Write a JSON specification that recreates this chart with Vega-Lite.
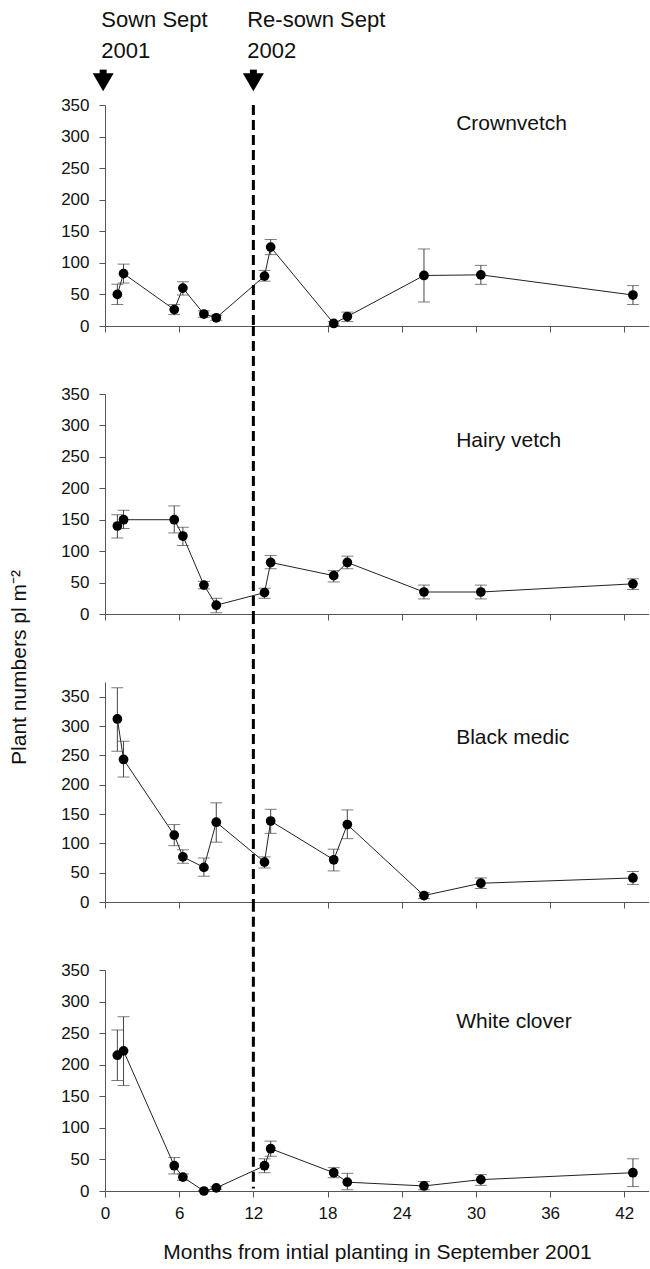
{
  "$schema": "https://vega.github.io/schema/vega-lite/v6.json",
  "padding": {"left": 7, "top": 9, "right": 0, "bottom": 0},
  "background": "white",
  "datasets": {
    "crown": [
      {"month": 1.0, "value": 50, "lo": 34, "hi": 66},
      {"month": 1.5, "value": 83, "lo": 68, "hi": 98},
      {"month": 5.6, "value": 26, "lo": 18, "hi": 34},
      {"month": 6.3, "value": 60, "lo": 49, "hi": 70},
      {"month": 8.0, "value": 19, "lo": 14, "hi": 24},
      {"month": 9.0, "value": 13, "lo": 9, "hi": 17},
      {"month": 12.9, "value": 79, "lo": 71, "hi": 88},
      {"month": 13.4, "value": 125, "lo": 113, "hi": 137},
      {"month": 18.5, "value": 4, "lo": 1, "hi": 7},
      {"month": 19.6, "value": 15, "lo": 7, "hi": 22},
      {"month": 25.8, "value": 80, "lo": 38, "hi": 122},
      {"month": 30.4, "value": 81, "lo": 66, "hi": 96},
      {"month": 42.7, "value": 49, "lo": 34, "hi": 64}
    ],
    "hairy": [
      {"month": 1.0, "value": 140, "lo": 121, "hi": 158},
      {"month": 1.5, "value": 150, "lo": 136, "hi": 165},
      {"month": 5.6, "value": 150, "lo": 129, "hi": 172},
      {"month": 6.3, "value": 124, "lo": 109, "hi": 138},
      {"month": 8.0, "value": 46, "lo": 40, "hi": 52},
      {"month": 9.0, "value": 14, "lo": 2, "hi": 25},
      {"month": 12.9, "value": 34, "lo": 25, "hi": 41},
      {"month": 13.4, "value": 82, "lo": 72, "hi": 93},
      {"month": 18.5, "value": 61, "lo": 51, "hi": 69},
      {"month": 19.6, "value": 82, "lo": 72, "hi": 92},
      {"month": 25.8, "value": 35, "lo": 24, "hi": 46},
      {"month": 30.4, "value": 35, "lo": 24, "hi": 46},
      {"month": 42.7, "value": 48, "lo": 39, "hi": 56}
    ],
    "medic": [
      {"month": 1.0, "value": 312, "lo": 257, "hi": 365},
      {"month": 1.5, "value": 243, "lo": 213, "hi": 274},
      {"month": 5.6, "value": 114, "lo": 96, "hi": 132},
      {"month": 6.3, "value": 77, "lo": 66, "hi": 89},
      {"month": 8.0, "value": 59, "lo": 44, "hi": 75},
      {"month": 9.0, "value": 136, "lo": 102, "hi": 169},
      {"month": 12.9, "value": 68, "lo": 58, "hi": 77},
      {"month": 13.4, "value": 138, "lo": 117, "hi": 158},
      {"month": 18.5, "value": 72, "lo": 53, "hi": 90},
      {"month": 19.6, "value": 132, "lo": 108, "hi": 157},
      {"month": 25.8, "value": 11, "lo": 6, "hi": 16},
      {"month": 30.4, "value": 32, "lo": 23, "hi": 41},
      {"month": 42.7, "value": 41, "lo": 30, "hi": 52}
    ],
    "clover": [
      {"month": 1.0, "value": 215, "lo": 175, "hi": 255},
      {"month": 1.5, "value": 222, "lo": 167, "hi": 276},
      {"month": 5.6, "value": 40, "lo": 27, "hi": 53},
      {"month": 6.3, "value": 22, "lo": 17, "hi": 27},
      {"month": 8.0, "value": 0, "lo": 0, "hi": 1},
      {"month": 9.0, "value": 5, "lo": 3, "hi": 7},
      {"month": 12.9, "value": 40, "lo": 29, "hi": 51},
      {"month": 13.4, "value": 67, "lo": 55, "hi": 79},
      {"month": 18.5, "value": 29, "lo": 21, "hi": 37},
      {"month": 19.6, "value": 14, "lo": 2, "hi": 28},
      {"month": 25.8, "value": 8, "lo": 2, "hi": 15},
      {"month": 30.4, "value": 18, "lo": 9, "hi": 26},
      {"month": 42.7, "value": 29, "lo": 7, "hi": 51}
    ]
  },
  "vconcat": [
    {
      "width": 544, "height": 221,
      "data": {"name": "crown"},
      "layer": [
        {"mark": {"type": "line", "color": "#222", "strokeWidth": 1},
         "encoding": {
           "x": {"field": "month", "type": "quantitative", "scale": {"domain": [0, 44], "nice": false, "zero": false},
                 "axis": {"values": [0, 6, 12, 18, 24, 30, 36, 42], "labels": false, "title": null}},
           "y": {"field": "value", "type": "quantitative", "scale": {"domain": [0, 350], "nice": false},
                 "axis": {"values": [0, 50, 100, 150, 200, 250, 300, 350], "title": null}}}},
        {"data": {"values": [{}]}, "mark": {"type": "rule", "strokeDash": [10, 5], "strokeWidth": 3, "color": "#000"},
         "encoding": {"x": {"datum": 12, "type": "quantitative", "axis": {"values": [0, 6, 12, 18, 24, 30, 36, 42], "labels": false, "title": null}},
                      "y": {"datum": 350, "type": "quantitative", "axis": {"values": [0, 50, 100, 150, 200, 250, 300, 350], "title": null}}, "y2": {"datum": 0}}},
        {"mark": {"type": "rule", "color": "#444", "strokeWidth": 1},
         "encoding": {"x": {"field": "month", "type": "quantitative", "axis": {"values": [0, 6, 12, 18, 24, 30, 36, 42], "labels": false, "title": null}},
                      "y": {"field": "lo", "type": "quantitative", "axis": {"values": [0, 50, 100, 150, 200, 250, 300, 350], "title": null}}, "y2": {"field": "hi"}}},
        {"mark": {"type": "tick", "orient": "horizontal", "size": 12, "thickness": 1, "color": "#444"},
         "encoding": {"x": {"field": "month", "type": "quantitative", "axis": {"values": [0, 6, 12, 18, 24, 30, 36, 42], "labels": false, "title": null}},
                      "y": {"field": "lo", "type": "quantitative", "axis": {"values": [0, 50, 100, 150, 200, 250, 300, 350], "title": null}}}},
        {"mark": {"type": "tick", "orient": "horizontal", "size": 12, "thickness": 1, "color": "#444"},
         "encoding": {"x": {"field": "month", "type": "quantitative", "axis": {"values": [0, 6, 12, 18, 24, 30, 36, 42], "labels": false, "title": null}},
                      "y": {"field": "hi", "type": "quantitative", "axis": {"values": [0, 50, 100, 150, 200, 250, 300, 350], "title": null}}}},
        {"mark": {"type": "circle", "size": 95, "color": "#000", "opacity": 1},
         "encoding": {"x": {"field": "month", "type": "quantitative", "axis": {"values": [0, 6, 12, 18, 24, 30, 36, 42], "labels": false, "title": null}},
                      "y": {"field": "value", "type": "quantitative", "axis": {"values": [0, 50, 100, 150, 200, 250, 300, 350], "title": null}}}},
        {"data": {"values": [{}]}, "mark": {"type": "text", "text": "Crownvetch", "align": "left", "baseline": "middle", "fontSize": 21},
         "encoding": {"x": {"datum": 28.4, "type": "quantitative", "axis": {"values": [0, 6, 12, 18, 24, 30, 36, 42], "labels": false, "title": null}},
                      "y": {"datum": 320, "type": "quantitative", "axis": {"values": [0, 50, 100, 150, 200, 250, 300, 350], "title": null}}}},
        {"data": {"values": [{}]}, "mark": {"type": "text", "text": "Sown Sept", "align": "left", "baseline": "alphabetic", "fontSize": 22},
         "encoding": {"x": {"datum": -0.3, "type": "quantitative", "axis": {"values": [0, 6, 12, 18, 24, 30, 36, 42], "labels": false, "title": null}},
                      "y": {"datum": 473, "type": "quantitative", "axis": {"values": [0, 50, 100, 150, 200, 250, 300, 350], "title": null}}}},
        {"data": {"values": [{}]}, "mark": {"type": "text", "text": "2001", "align": "left", "baseline": "alphabetic", "fontSize": 22},
         "encoding": {"x": {"datum": -0.3, "type": "quantitative", "axis": {"values": [0, 6, 12, 18, 24, 30, 36, 42], "labels": false, "title": null}},
                      "y": {"datum": 424, "type": "quantitative", "axis": {"values": [0, 50, 100, 150, 200, 250, 300, 350], "title": null}}}},
        {"data": {"values": [{}]}, "mark": {"type": "text", "text": "Re-sown Sept", "align": "left", "baseline": "alphabetic", "fontSize": 22},
         "encoding": {"x": {"datum": 11.5, "type": "quantitative", "axis": {"values": [0, 6, 12, 18, 24, 30, 36, 42], "labels": false, "title": null}},
                      "y": {"datum": 473, "type": "quantitative", "axis": {"values": [0, 50, 100, 150, 200, 250, 300, 350], "title": null}}}},
        {"data": {"values": [{}]}, "mark": {"type": "text", "text": "2002", "align": "left", "baseline": "alphabetic", "fontSize": 22},
         "encoding": {"x": {"datum": 11.5, "type": "quantitative", "axis": {"values": [0, 6, 12, 18, 24, 30, 36, 42], "labels": false, "title": null}},
                      "y": {"datum": 424, "type": "quantitative", "axis": {"values": [0, 50, 100, 150, 200, 250, 300, 350], "title": null}}}},
        {"data": {"values": [{"m": -0.15}, {"m": 12}]}, "mark": {"type": "rule", "strokeWidth": 7, "color": "#000"},
         "encoding": {"x": {"field": "m", "type": "quantitative", "axis": {"values": [0, 6, 12, 18, 24, 30, 36, 42], "labels": false, "title": null}},
                      "y": {"datum": 406, "type": "quantitative", "axis": {"values": [0, 50, 100, 150, 200, 250, 300, 350], "title": null}}, "y2": {"datum": 392}}},
        {"data": {"values": [{"m": -0.15}, {"m": 12}]}, "mark": {"type": "point", "shape": "triangle-down", "filled": true, "size": 441, "color": "#000", "opacity": 1},
         "encoding": {"x": {"field": "m", "type": "quantitative", "axis": {"values": [0, 6, 12, 18, 24, 30, 36, 42], "labels": false, "title": null}},
                      "y": {"datum": 386, "type": "quantitative", "axis": {"values": [0, 50, 100, 150, 200, 250, 300, 350], "title": null}}}}
      ]
    },
    {
      "width": 544, "height": 220,
      "data": {"name": "hairy"},
      "layer": [
        {"mark": {"type": "line", "color": "#222", "strokeWidth": 1},
         "encoding": {
           "x": {"field": "month", "type": "quantitative", "scale": {"domain": [0, 44], "nice": false, "zero": false},
                 "axis": {"values": [0, 6, 12, 18, 24, 30, 36, 42], "labels": false, "title": null}},
           "y": {"field": "value", "type": "quantitative", "scale": {"domain": [0, 350], "nice": false},
                 "axis": {"values": [0, 50, 100, 150, 200, 250, 300, 350], "title": null}}}},
        {"data": {"values": [{}]}, "mark": {"type": "rule", "strokeDash": [10, 5], "strokeWidth": 3, "color": "#000"},
         "encoding": {"x": {"datum": 12, "type": "quantitative", "axis": {"values": [0, 6, 12, 18, 24, 30, 36, 42], "labels": false, "title": null}},
                      "y": {"datum": 458, "type": "quantitative", "axis": {"values": [0, 50, 100, 150, 200, 250, 300, 350], "title": null}}, "y2": {"datum": 0}}},
        {"mark": {"type": "rule", "color": "#444", "strokeWidth": 1},
         "encoding": {"x": {"field": "month", "type": "quantitative", "axis": {"values": [0, 6, 12, 18, 24, 30, 36, 42], "labels": false, "title": null}},
                      "y": {"field": "lo", "type": "quantitative", "axis": {"values": [0, 50, 100, 150, 200, 250, 300, 350], "title": null}}, "y2": {"field": "hi"}}},
        {"mark": {"type": "tick", "orient": "horizontal", "size": 12, "thickness": 1, "color": "#444"},
         "encoding": {"x": {"field": "month", "type": "quantitative", "axis": {"values": [0, 6, 12, 18, 24, 30, 36, 42], "labels": false, "title": null}},
                      "y": {"field": "lo", "type": "quantitative", "axis": {"values": [0, 50, 100, 150, 200, 250, 300, 350], "title": null}}}},
        {"mark": {"type": "tick", "orient": "horizontal", "size": 12, "thickness": 1, "color": "#444"},
         "encoding": {"x": {"field": "month", "type": "quantitative", "axis": {"values": [0, 6, 12, 18, 24, 30, 36, 42], "labels": false, "title": null}},
                      "y": {"field": "hi", "type": "quantitative", "axis": {"values": [0, 50, 100, 150, 200, 250, 300, 350], "title": null}}}},
        {"mark": {"type": "circle", "size": 95, "color": "#000", "opacity": 1},
         "encoding": {"x": {"field": "month", "type": "quantitative", "axis": {"values": [0, 6, 12, 18, 24, 30, 36, 42], "labels": false, "title": null}},
                      "y": {"field": "value", "type": "quantitative", "axis": {"values": [0, 50, 100, 150, 200, 250, 300, 350], "title": null}}}},
        {"data": {"values": [{}]}, "mark": {"type": "text", "text": "Hairy vetch", "align": "left", "baseline": "middle", "fontSize": 21},
         "encoding": {"x": {"datum": 28.4, "type": "quantitative", "axis": {"values": [0, 6, 12, 18, 24, 30, 36, 42], "labels": false, "title": null}},
                      "y": {"datum": 276, "type": "quantitative", "axis": {"values": [0, 50, 100, 150, 200, 250, 300, 350], "title": null}}}}
      ]
    },
    {
      "width": 544, "height": 220,
      "data": {"name": "medic"},
      "layer": [
        {"mark": {"type": "line", "color": "#222", "strokeWidth": 1},
         "encoding": {
           "x": {"field": "month", "type": "quantitative", "scale": {"domain": [0, 44], "nice": false, "zero": false},
                 "axis": {"values": [0, 6, 12, 18, 24, 30, 36, 42], "labels": false, "title": null}},
           "y": {"field": "value", "type": "quantitative", "scale": {"domain": [0, 375], "nice": false},
                 "axis": {"values": [0, 50, 100, 150, 200, 250, 300, 350], "title": "Plant numbers pl m⁻²",
                          "titleFontSize": 21, "titleX": -86, "titleY": -15, "titleAngle": 270, "titleBaseline": "middle", "titleAlign": "center"}}}},
        {"data": {"values": [{}]}, "mark": {"type": "rule", "strokeDash": [10, 5], "strokeWidth": 3, "color": "#000"},
         "encoding": {"x": {"datum": 12, "type": "quantitative", "axis": {"values": [0, 6, 12, 18, 24, 30, 36, 42], "labels": false, "title": null}},
                      "y": {"datum": 491, "type": "quantitative", "axis": {"values": [0, 50, 100, 150, 200, 250, 300, 350], "title": "Plant numbers pl m⁻²"}}, "y2": {"datum": 0}}},
        {"mark": {"type": "rule", "color": "#444", "strokeWidth": 1},
         "encoding": {"x": {"field": "month", "type": "quantitative", "axis": {"values": [0, 6, 12, 18, 24, 30, 36, 42], "labels": false, "title": null}},
                      "y": {"field": "lo", "type": "quantitative", "axis": {"values": [0, 50, 100, 150, 200, 250, 300, 350], "title": "Plant numbers pl m⁻²"}}, "y2": {"field": "hi"}}},
        {"mark": {"type": "tick", "orient": "horizontal", "size": 12, "thickness": 1, "color": "#444"},
         "encoding": {"x": {"field": "month", "type": "quantitative", "axis": {"values": [0, 6, 12, 18, 24, 30, 36, 42], "labels": false, "title": null}},
                      "y": {"field": "lo", "type": "quantitative", "axis": {"values": [0, 50, 100, 150, 200, 250, 300, 350], "title": "Plant numbers pl m⁻²"}}}},
        {"mark": {"type": "tick", "orient": "horizontal", "size": 12, "thickness": 1, "color": "#444"},
         "encoding": {"x": {"field": "month", "type": "quantitative", "axis": {"values": [0, 6, 12, 18, 24, 30, 36, 42], "labels": false, "title": null}},
                      "y": {"field": "hi", "type": "quantitative", "axis": {"values": [0, 50, 100, 150, 200, 250, 300, 350], "title": "Plant numbers pl m⁻²"}}}},
        {"mark": {"type": "circle", "size": 95, "color": "#000", "opacity": 1},
         "encoding": {"x": {"field": "month", "type": "quantitative", "axis": {"values": [0, 6, 12, 18, 24, 30, 36, 42], "labels": false, "title": null}},
                      "y": {"field": "value", "type": "quantitative", "axis": {"values": [0, 50, 100, 150, 200, 250, 300, 350], "title": "Plant numbers pl m⁻²"}}}},
        {"data": {"values": [{}]}, "mark": {"type": "text", "text": "Black medic", "align": "left", "baseline": "middle", "fontSize": 21},
         "encoding": {"x": {"datum": 28.4, "type": "quantitative", "axis": {"values": [0, 6, 12, 18, 24, 30, 36, 42], "labels": false, "title": null}},
                      "y": {"datum": 280, "type": "quantitative", "axis": {"values": [0, 50, 100, 150, 200, 250, 300, 350], "title": "Plant numbers pl m⁻²"}}}}
      ]
    },
    {
      "width": 544, "height": 221,
      "data": {"name": "clover"},
      "layer": [
        {"mark": {"type": "line", "color": "#222", "strokeWidth": 1},
         "encoding": {
           "x": {"field": "month", "type": "quantitative", "scale": {"domain": [0, 44], "nice": false, "zero": false},
                 "axis": {"values": [0, 6, 12, 18, 24, 30, 36, 42], "labels": true, "labelFlush": false, "labelPadding": 8,
                          "title": "Months from intial planting in September 2001", "titleFontSize": 21, "titlePadding": 20}},
           "y": {"field": "value", "type": "quantitative", "scale": {"domain": [0, 350], "nice": false},
                 "axis": {"values": [0, 50, 100, 150, 200, 250, 300, 350], "title": null}}}},
        {"data": {"values": [{}]}, "mark": {"type": "rule", "strokeDash": [10, 5], "strokeWidth": 3, "color": "#000"},
         "encoding": {"x": {"datum": 12, "type": "quantitative", "axis": {"values": [0, 6, 12, 18, 24, 30, 36, 42], "title": "Months from intial planting in September 2001"}},
                      "y": {"datum": 458, "type": "quantitative", "axis": {"values": [0, 50, 100, 150, 200, 250, 300, 350], "title": null}}, "y2": {"datum": 4}}},
        {"mark": {"type": "rule", "color": "#444", "strokeWidth": 1},
         "encoding": {"x": {"field": "month", "type": "quantitative", "axis": {"values": [0, 6, 12, 18, 24, 30, 36, 42], "title": "Months from intial planting in September 2001"}},
                      "y": {"field": "lo", "type": "quantitative", "axis": {"values": [0, 50, 100, 150, 200, 250, 300, 350], "title": null}}, "y2": {"field": "hi"}}},
        {"mark": {"type": "tick", "orient": "horizontal", "size": 12, "thickness": 1, "color": "#444"},
         "encoding": {"x": {"field": "month", "type": "quantitative", "axis": {"values": [0, 6, 12, 18, 24, 30, 36, 42], "title": "Months from intial planting in September 2001"}},
                      "y": {"field": "lo", "type": "quantitative", "axis": {"values": [0, 50, 100, 150, 200, 250, 300, 350], "title": null}}}},
        {"mark": {"type": "tick", "orient": "horizontal", "size": 12, "thickness": 1, "color": "#444"},
         "encoding": {"x": {"field": "month", "type": "quantitative", "axis": {"values": [0, 6, 12, 18, 24, 30, 36, 42], "title": "Months from intial planting in September 2001"}},
                      "y": {"field": "hi", "type": "quantitative", "axis": {"values": [0, 50, 100, 150, 200, 250, 300, 350], "title": null}}}},
        {"mark": {"type": "circle", "size": 95, "color": "#000", "opacity": 1},
         "encoding": {"x": {"field": "month", "type": "quantitative", "axis": {"values": [0, 6, 12, 18, 24, 30, 36, 42], "title": "Months from intial planting in September 2001"}},
                      "y": {"field": "value", "type": "quantitative", "axis": {"values": [0, 50, 100, 150, 200, 250, 300, 350], "title": null}}}},
        {"data": {"values": [{}]}, "mark": {"type": "text", "text": "White clover", "align": "left", "baseline": "middle", "fontSize": 21},
         "encoding": {"x": {"datum": 28.4, "type": "quantitative", "axis": {"values": [0, 6, 12, 18, 24, 30, 36, 42], "title": "Months from intial planting in September 2001"}},
                      "y": {"datum": 268, "type": "quantitative", "axis": {"values": [0, 50, 100, 150, 200, 250, 300, 350], "title": null}}}}
      ]
    }
  ],
  "spacing": 68,
  "bounds": "flush",
  "config": {
    "font": "Liberation Sans",
    "view": {"stroke": null},
    "axis": {"grid": false, "domainColor": "#555", "tickColor": "#555", "labelColor": "#111", "labelFontSize": 17,
             "titleColor": "#111", "titleFontWeight": "normal", "tickSize": 6, "domainWidth": 1, "tickWidth": 1, "labelPadding": 10,
             "labelOverlap": false},
    "text": {"font": "Liberation Sans", "color": "#111"}
  }
}
